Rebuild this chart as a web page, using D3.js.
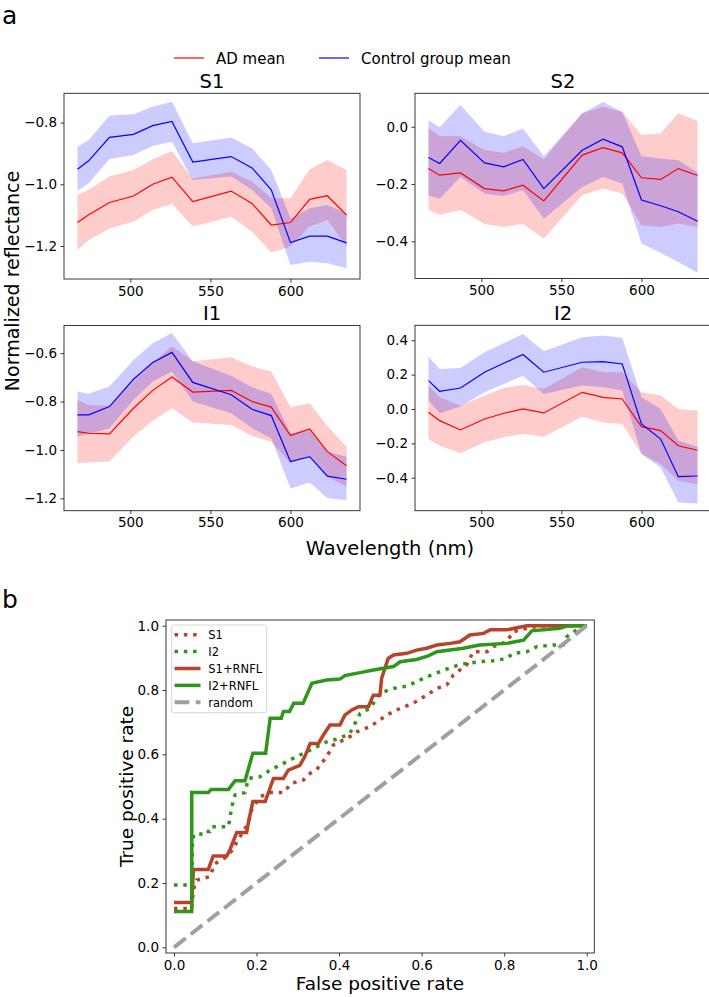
<!DOCTYPE html>
<html><head><meta charset="utf-8">
<script src="https://cdn.jsdelivr.net/npm/d3@7"></script>
<style>
body{margin:0;background:#fff}
svg{display:block}
text{font-family:"DejaVu Sans",sans-serif;fill:#000}
</style>
</head><body>
<svg id="c" width="709" height="997"></svg>
<script>
// ---------------- DATA ----------------
const wavelengths = [467, 474, 487, 502, 514, 526, 539, 563, 576, 588, 600, 612, 623, 635];
const panelTitles = ["S1", "S2", "I1", "I2"];
const xTickValues = [500, 550, 600];

const s1CtrlMean = [-0.951, -0.924, -0.848, -0.838, -0.810, -0.796, -0.928, -0.910, -0.947, -1.018, -1.189, -1.168, -1.168, -1.19];
const s1CtrlHigh = [-0.878, -0.856, -0.777, -0.773, -0.748, -0.732, -0.867, -0.848, -0.883, -0.954, -1.110, -1.078, -1.067, -1.094];
const s1CtrlLow  = [-1.021, -0.997, -0.918, -0.905, -0.876, -0.862, -0.986, -0.975, -1.018, -1.078, -1.262, -1.251, -1.256, -1.272];
const s1AdMean   = [-1.124, -1.099, -1.059, -1.038, -1.000, -0.977, -1.056, -1.022, -1.062, -1.132, -1.124, -1.049, -1.037, -1.10];
const s1AdHigh   = [-1.035, -1.018, -0.975, -0.954, -0.919, -0.892, -0.981, -0.959, -0.991, -1.045, -1.045, -0.951, -0.921, -0.954];
const s1AdLow    = [-1.213, -1.181, -1.143, -1.121, -1.083, -1.064, -1.137, -1.105, -1.154, -1.221, -1.202, -1.137, -1.116, -1.202];

const s2CtrlMean = [-0.107, -0.128, -0.047, -0.126, -0.140, -0.114, -0.216, -0.082, -0.043, -0.070, -0.256, -0.276, -0.297, -0.33];
const s2CtrlHigh = [0.023, -0.002, 0.076, -0.017, -0.033, -0.006, -0.103, 0.047, 0.087, 0.052, -0.103, -0.111, -0.117, -0.16];
const s2CtrlLow  = [-0.239, -0.251, -0.175, -0.233, -0.242, -0.221, -0.321, -0.210, -0.175, -0.198, -0.408, -0.441, -0.472, -0.51];
const s2AdMean   = [-0.146, -0.169, -0.161, -0.216, -0.224, -0.204, -0.259, -0.099, -0.073, -0.091, -0.178, -0.184, -0.146, -0.17];
const s2AdHigh   = [-0.003, -0.033, -0.033, -0.082, -0.091, -0.068, -0.114, 0.047, 0.070, 0.052, -0.029, -0.023, 0.047, 0.02];
const s2AdLow    = [-0.291, -0.307, -0.291, -0.340, -0.350, -0.340, -0.390, -0.239, -0.216, -0.233, -0.344, -0.350, -0.338, -0.35];

const i1CtrlMean = [-0.855, -0.855, -0.821, -0.708, -0.639, -0.597, -0.721, -0.772, -0.832, -0.858, -1.048, -1.028, -1.108, -1.121];
const i1CtrlHigh = [-0.759, -0.768, -0.738, -0.628, -0.559, -0.517, -0.634, -0.694, -0.741, -0.768, -0.931, -0.917, -1.007, -1.028];
const i1CtrlLow  = [-0.945, -0.934, -0.910, -0.793, -0.717, -0.676, -0.800, -0.848, -0.910, -0.952, -1.159, -1.135, -1.200, -1.207];
const i1AdMean   = [-0.924, -0.931, -0.934, -0.828, -0.754, -0.699, -0.761, -0.754, -0.800, -0.823, -0.941, -0.913, -1.007, -1.065];
const i1AdHigh   = [-0.793, -0.814, -0.818, -0.717, -0.641, -0.572, -0.634, -0.617, -0.655, -0.676, -0.823, -0.807, -0.901, -0.986];
const i1AdLow    = [-1.055, -1.052, -1.048, -0.945, -0.879, -0.828, -0.887, -0.897, -0.942, -0.966, -1.055, -1.021, -1.110, -1.152];

const i2CtrlMean = [0.165, 0.103, 0.122, 0.214, 0.266, 0.317, 0.214, 0.272, 0.276, 0.262, -0.087, -0.175, -0.394, -0.39];
const i2CtrlHigh = [0.305, 0.233, 0.239, 0.330, 0.383, 0.437, 0.336, 0.417, 0.427, 0.414, 0.068, 0.0, -0.184, -0.22];
const i2CtrlLow  = [0.049, -0.025, 0.014, 0.097, 0.146, 0.194, 0.087, 0.136, 0.126, 0.107, -0.262, -0.340, -0.544, -0.55];
const i2AdMean   = [-0.019, -0.068, -0.122, -0.058, -0.025, 0.0, -0.023, 0.097, 0.068, 0.058, -0.103, -0.126, -0.214, -0.24];
const i2AdHigh   = [0.136, 0.068, 0.019, 0.078, 0.122, 0.140, 0.117, 0.243, 0.214, 0.214, 0.097, 0.078, 0.0, -0.01];
const i2AdLow    = [-0.175, -0.214, -0.258, -0.194, -0.165, -0.146, -0.161, -0.045, -0.078, -0.087, -0.262, -0.320, -0.417, -0.44];

const yTicksS1 = [-1.2, -1.0, -0.8];
const yTicksS2 = [-0.4, -0.2, 0.0];
const yTicksI1 = [-1.2, -1.0, -0.8, -0.6];
const yTicksI2 = [-0.4, -0.2, 0.0, 0.2, 0.4];

// ROC curves: [false positive rate, true positive rate]
const rocS1 = [[0,0.121],[0.043,0.121],[0.047,0.178],[0.055,0.209],[0.087,0.22],[0.099,0.26],[0.128,0.282],[0.14,0.30],[0.16,0.344],[0.18,0.386],[0.188,0.427],[0.208,0.468],[0.233,0.481],[0.265,0.481],[0.285,0.51],[0.313,0.52],[0.33,0.541],[0.346,0.553],[0.37,0.593],[0.386,0.629],[0.402,0.639],[0.426,0.655],[0.443,0.67],[0.475,0.686],[0.499,0.707],[0.515,0.722],[0.548,0.743],[0.58,0.759],[0.612,0.784],[0.637,0.805],[0.661,0.816],[0.677,0.847],[0.709,0.878],[0.725,0.919],[0.758,0.919],[0.774,0.935],[0.806,0.95],[0.822,0.981],[0.855,0.992],[0.887,1],[1,1]];
const rocI2 = [[0,0.194],[0.043,0.194],[0.045,0.344],[0.063,0.344],[0.067,0.36],[0.087,0.36],[0.091,0.375],[0.132,0.375],[0.14,0.437],[0.148,0.474],[0.172,0.481],[0.18,0.525],[0.208,0.53],[0.233,0.551],[0.273,0.577],[0.297,0.593],[0.33,0.613],[0.37,0.639],[0.402,0.65],[0.426,0.665],[0.451,0.727],[0.475,0.743],[0.499,0.79],[0.532,0.805],[0.564,0.812],[0.588,0.826],[0.612,0.841],[0.645,0.857],[0.677,0.873],[0.709,0.883],[0.742,0.888],[0.774,0.891],[0.806,0.898],[0.822,0.914],[0.855,0.919],[0.879,0.935],[0.919,0.94],[0.943,0.94],[0.952,0.966],[0.976,0.987],[1,1]];
const rocS1RNFL = [[0,0.139],[0.043,0.139],[0.047,0.242],[0.083,0.242],[0.095,0.284],[0.128,0.284],[0.136,0.305],[0.152,0.357],[0.176,0.357],[0.18,0.386],[0.191,0.453],[0.221,0.453],[0.241,0.525],[0.265,0.525],[0.277,0.551],[0.305,0.566],[0.317,0.593],[0.33,0.634],[0.35,0.634],[0.362,0.66],[0.378,0.691],[0.402,0.691],[0.414,0.722],[0.431,0.738],[0.447,0.748],[0.471,0.748],[0.483,0.784],[0.499,0.784],[0.503,0.836],[0.519,0.898],[0.532,0.909],[0.564,0.914],[0.588,0.924],[0.612,0.93],[0.637,0.94],[0.669,0.945],[0.693,0.95],[0.717,0.971],[0.75,0.976],[0.766,0.987],[0.806,0.987],[0.855,1],[1,1]];
const rocI2RNFL = [[0,0.111],[0.043,0.111],[0.043,0.481],[0.083,0.481],[0.09,0.491],[0.132,0.491],[0.148,0.518],[0.172,0.518],[0.191,0.603],[0.222,0.603],[0.233,0.712],[0.26,0.712],[0.265,0.733],[0.28,0.733],[0.29,0.759],[0.313,0.759],[0.334,0.821],[0.37,0.831],[0.402,0.834],[0.414,0.845],[0.451,0.854],[0.483,0.862],[0.532,0.873],[0.548,0.888],[0.588,0.895],[0.616,0.906],[0.637,0.919],[0.701,0.93],[0.74,0.94],[0.806,0.945],[0.847,0.955],[0.867,0.984],[0.935,0.992],[0.955,1],[1,1]];
const rocRandom = [[0,0],[1,1]];
const rocLabels = ["S1", "I2", "S1+RNFL", "I2+RNFL", "random"];
const rocTicks = [0, 0.2, 0.4, 0.6, 0.8, 1.0];

// ---------------- DRAW ----------------
const svg = d3.select("#c");
const FONT = "DejaVu Sans";
const AX = "#222";

svg.append("text").attr("x", 2).attr("y", 24).attr("font-size", 25).text("a");
svg.append("text").attr("x", 2).attr("y", 608).attr("font-size", 25).text("b");

// top legend
const legTop = svg.append("g");
legTop.append("line").attr("x1", 174).attr("x2", 204).attr("y1", 58).attr("y2", 58).attr("stroke", "#ff0000").attr("stroke-width", 1.2);
legTop.append("text").attr("x", 216).attr("y", 63.5).attr("font-size", 15).text("AD mean");
legTop.append("line").attr("x1", 319).attr("x2", 349).attr("y1", 58).attr("y2", 58).attr("stroke", "#0000ff").attr("stroke-width", 1.2);
legTop.append("text").attr("x", 361).attr("y", 63.5).attr("font-size", 15).text("Control group mean");

const panels = [
  {title: panelTitles[0], x0: 64, y0: 93.3, y1: 279, dom: [-1.307, -0.705], ticks: yTicksS1,
   cm: s1CtrlMean, ch: s1CtrlHigh, cl: s1CtrlLow, am: s1AdMean, ah: s1AdHigh, al: s1AdLow},
  {title: panelTitles[1], x0: 415, y0: 93.3, y1: 278.5, dom: [-0.530, 0.117], ticks: yTicksS2,
   cm: s2CtrlMean, ch: s2CtrlHigh, cl: s2CtrlLow, am: s2AdMean, ah: s2AdHigh, al: s2AdLow},
  {title: panelTitles[2], x0: 64, y0: 325.5, y1: 510.7, dom: [-1.251, -0.486], ticks: yTicksI1,
   cm: i1CtrlMean, ch: i1CtrlHigh, cl: i1CtrlLow, am: i1AdMean, ah: i1AdHigh, al: i1AdLow},
  {title: panelTitles[3], x0: 415, y0: 325.3, y1: 510.7, dom: [-0.592, 0.487], ticks: yTicksI2,
   cm: i2CtrlMean, ch: i2CtrlHigh, cl: i2CtrlLow, am: i2AdMean, ah: i2AdHigh, al: i2AdLow}
];
const PW = 296;
const fmt = d3.format(".1f");

function styleAxis(g, fs) {
  g.select(".domain").remove();
  g.selectAll(".tick line").attr("stroke", AX).attr("stroke-width", 0.9);
  g.selectAll(".tick text").attr("font-size", fs).attr("font-family", FONT).attr("fill", "#000");
}

panels.forEach((p, i) => {
  const x = d3.scaleLinear().domain([458.6, 643.4]).range([p.x0, p.x0 + PW]);
  const y = d3.scaleLinear().domain(p.dom).range([p.y1, p.y0]);
  const g = svg.append("g");
  const clipId = "clip" + i;
  g.append("clipPath").attr("id", clipId).append("rect")
    .attr("x", p.x0).attr("y", p.y0).attr("width", PW).attr("height", p.y1 - p.y0);
  const plot = g.append("g").attr("clip-path", `url(#${clipId})`);
  const idx = d3.range(wavelengths.length);
  const area = (lo, hi) => d3.area().x(k => x(wavelengths[k])).y0(k => y(lo[k])).y1(k => y(hi[k]))(idx);
  const line = (m) => d3.line().x(k => x(wavelengths[k])).y(k => y(m[k]))(idx);
  plot.append("path").attr("d", area(p.al, p.ah)).attr("fill", "#ff0000").attr("fill-opacity", 0.2);
  plot.append("path").attr("d", area(p.cl, p.ch)).attr("fill", "#0000ff").attr("fill-opacity", 0.2);
  plot.append("path").attr("d", line(p.am)).attr("fill", "none").attr("stroke", "#ff0000").attr("stroke-width", 1.2);
  plot.append("path").attr("d", line(p.cm)).attr("fill", "none").attr("stroke", "#0000ff").attr("stroke-width", 1.2);

  const gx = g.append("g").attr("transform", `translate(0,${p.y1})`)
    .call(d3.axisBottom(x).tickValues(xTickValues).tickSize(3.5).tickPadding(3.5).tickFormat(d3.format("d")));
  styleAxis(gx, 13.5);
  const gy = g.append("g").attr("transform", `translate(${p.x0},0)`)
    .call(d3.axisLeft(y).tickValues(p.ticks).tickSize(3.5).tickPadding(3.5).tickFormat(fmt));
  styleAxis(gy, 13.5);
  g.append("rect").attr("x", p.x0).attr("y", p.y0).attr("width", PW).attr("height", p.y1 - p.y0)
    .attr("fill", "none").attr("stroke", AX).attr("stroke-width", 0.9);
  g.append("text").attr("x", p.x0 + PW / 2).attr("y", p.y0 - 5.5).attr("text-anchor", "middle")
    .attr("font-size", 19.5).text(p.title);
});

svg.append("text").attr("transform", "translate(18.5,281) rotate(-90)").attr("text-anchor", "middle")
  .attr("font-size", 19).text("Normalized reflectance");
svg.append("text").attr("x", 390).attr("y", 555).attr("text-anchor", "middle")
  .attr("font-size", 19.5).text("Wavelength (nm)");

// ---------------- ROC ----------------
const R = {x0: 166, x1: 594.3, y0: 620, y1: 953};
const rx = d3.scaleLinear().domain([-0.0194, 1.0184]).range([R.x0, R.x1]);
const ry = d3.scaleLinear().domain([-0.0177, 1.0177]).range([R.y1, R.y0]);
const rg = svg.append("g");
rg.append("clipPath").attr("id", "rocclip").append("rect")
  .attr("x", R.x0).attr("y", R.y0).attr("width", R.x1 - R.x0).attr("height", R.y1 - R.y0);
const rplot = rg.append("g").attr("clip-path", "url(#rocclip)");
const RED = "#b8432a", GREEN = "#2e961a", GRAY = "#a0a0a0";
const rline = d3.line().x(d => rx(d[0])).y(d => ry(d[1]));
const rocSeries = [
  {data: rocS1, color: RED, dash: "3.5,5.8", w: 3.5},
  {data: rocI2, color: GREEN, dash: "3.5,5.8", w: 3.5},
  {data: rocS1RNFL, color: RED, dash: null, w: 3.5},
  {data: rocI2RNFL, color: GREEN, dash: null, w: 3.5},
  {data: rocRandom, color: GRAY, dash: "14.8,6.4", w: 4}
];
rocSeries.forEach(s => {
  rplot.append("path").attr("d", rline(s.data)).attr("fill", "none").attr("stroke", s.color)
    .attr("stroke-width", s.w).attr("stroke-dasharray", s.dash).attr("stroke-linejoin", "miter");
});
const rgx = rg.append("g").attr("transform", `translate(0,${R.y1})`)
  .call(d3.axisBottom(rx).tickValues(rocTicks).tickSize(3.5).tickPadding(3.5).tickFormat(fmt));
styleAxis(rgx, 13.5);
const rgy = rg.append("g").attr("transform", `translate(${R.x0},0)`)
  .call(d3.axisLeft(ry).tickValues(rocTicks).tickSize(3.5).tickPadding(3.5).tickFormat(fmt));
styleAxis(rgy, 13.5);
rg.append("rect").attr("x", R.x0).attr("y", R.y0).attr("width", R.x1 - R.x0).attr("height", R.y1 - R.y0)
  .attr("fill", "none").attr("stroke", AX).attr("stroke-width", 0.9);

// legend
const lg = rg.append("g");
lg.append("rect").attr("x", 171.7).attr("y", 625).attr("width", 95).attr("height", 87.7).attr("rx", 2.5)
  .attr("fill", "#fff").attr("fill-opacity", 0.8).attr("stroke", "#d0d0d0").attr("stroke-width", 0.9);
rocSeries.forEach((s, k) => {
  const yy = 634.7 + k * 16.9;
  lg.append("line").attr("x1", 174.5).attr("x2", 200.5).attr("y1", yy).attr("y2", yy)
    .attr("stroke", s.color).attr("stroke-width", s.w).attr("stroke-dasharray", s.dash);
  lg.append("text").attr("x", 208.3).attr("y", yy + 4.2).attr("font-size", 11.5).text(rocLabels[k]);
});

svg.append("text").attr("transform", "translate(133,786.5) rotate(-90)").attr("text-anchor", "middle")
  .attr("font-size", 18.5).text("True positive rate");
svg.append("text").attr("x", 380).attr("y", 990).attr("text-anchor", "middle")
  .attr("font-size", 18.5).text("False positive rate");
</script>
</body></html>
